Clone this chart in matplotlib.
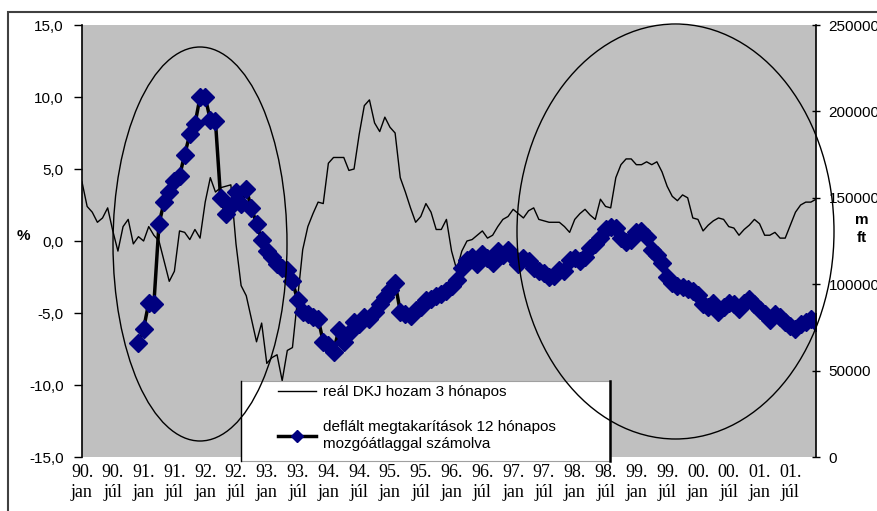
import numpy as np
import matplotlib
matplotlib.use("Agg")
import matplotlib.pyplot as plt
from matplotlib.patches import Ellipse, Rectangle
from matplotlib.lines import Line2D

# havi adatok 1990 jan - 2001 dec
honap_cimkek = ["90.\njan", "90.\njúl", "91.\njan", "91.\njúl", "92.\njan", "92.\njúl",
                "93.\njan", "93.\njúl", "94.\njan", "94.\njúl", "95.\njan", "95.\njúl",
                "96.\njan", "96.\njúl", "97.\njan", "97.\njúl", "98.\njan", "98.\njúl",
                "99.\njan", "99.\njúl", "00.\njan", "00.\njúl", "01.\njan", "01.\njúl"]

# reál DKJ hozam, % (bal tengely)
dkj_hozam = [4.1, 2.4, 2.0, 1.3, 1.6, 2.3, 0.7, -0.7, 1.0, 1.5, -0.2, 0.3,
             0.0, 1.0, 0.4, 0.0, -1.4, -2.8, -2.1, 0.7, 0.6, 0.1, 0.8, 0.2,
             2.7, 4.4, 3.4, 3.7, 3.8, 3.9, -0.2, -3.1, -3.8, -5.4, -7.0, -5.7,
             -8.5, -8.1, -7.9, -9.7, -7.6, -7.4, -4.0, -0.6, 1.0, 1.9, 2.7, 2.6,
             5.4, 5.8, 5.8, 5.8, 4.9, 5.0, 7.4, 9.4, 9.8, 8.2, 7.6, 8.6,
             7.9, 7.5, 4.4, 3.4, 2.3, 1.3, 1.7, 2.6, 2.0, 0.8, 0.8, 1.5,
             -0.7, -2.0, -0.7, 0.0, 0.1, 0.4, 0.7, 0.2, 0.4, 1.0, 1.5, 1.7,
             2.2, 1.9, 1.6, 2.1, 2.3, 1.5, 1.4, 1.3, 1.3, 1.3, 1.0, 0.6,
             1.5, 1.9, 2.2, 1.8, 1.5, 2.9, 2.4, 2.3, 4.4, 5.3, 5.7, 5.7,
             5.3, 5.3, 5.5, 5.3, 5.5, 4.8, 3.8, 3.1, 2.8, 3.2, 3.0, 1.6,
             1.5, 0.7, 1.1, 1.4, 1.6, 1.5, 1.0, 0.9, 0.4, 0.8, 1.1, 1.5,
             1.2, 0.4, 0.4, 0.6, 0.2, 0.2, 1.1, 2.0, 2.5, 2.7, 2.7, 2.9]

# deflált megtakarítások, 12 havi mozgóátlag, m ft (jobb tengely), 1990 dec-tõl
megtakaritas = [65800, 74200, 89200, 88300, 135000, 147500, 153300, 160000, 162500,
                175000, 186700, 192500, 208300, 208300, 195000, 194200, 150000, 140800,
                145000, 153300, 146700, 155000, 144200, 135000, 125800, 119200, 115800,
                111700, 109200, 108300, 101700, 90800, 84200, 82500, 80800, 80000,
                66700, 65000, 60800, 73300, 66700, 71700, 78300, 76700, 80800,
                80000, 84200, 88300, 92500, 96700, 100800, 84200, 82500, 81700,
                85000, 86700, 90800, 91700, 93300, 94200, 95800, 99200, 102500,
                109200, 114200, 115800, 111700, 117500, 115000, 112500, 119200, 116700,
                120000, 115800, 111700, 115000, 113300, 109200, 107500, 106700, 104200,
                105000, 108300, 107500, 114200, 115000, 113300, 115800, 120800, 123300,
                126700, 131700, 133300, 132500, 126700, 124200, 125800, 130000, 130500,
                127500, 120000, 116700, 112500, 104200, 100800, 99200, 98300, 97500,
                95800, 93800, 88300, 86700, 89200, 84200, 86700, 89200, 88300,
                85800, 89200, 91700, 88300, 85000, 82500, 79200, 82500, 80800,
                78300, 75800, 74200, 76700, 78300, 80000, 78300]

W, H = 877, 511
sans = "Liberation Sans"
serif = "Liberation Serif"

fig = plt.figure(figsize=(W / 100, H / 100), dpi=100)
ax = fig.add_axes([82 / W, 1 - 457 / H, 734 / W, 432 / H])
ax.set_facecolor("#c0c0c0")

honap = np.arange(len(dkj_hozam))
l1, = ax.plot(honap, dkj_hozam, color="black", lw=1.0)
ax.set_xlim(0, len(dkj_hozam) - 1)
ax.set_ylim(-15, 15)
yt = np.arange(-15, 16, 5)
ax.set_yticks(yt)
ax.set_yticklabels([f"{v:.1f}".replace(".", ",") for v in yt], fontfamily=sans, fontsize=11)
ax.set_xticks(honap[::6])
ax.set_xticklabels(honap_cimkek, fontfamily=serif, fontsize=13)
ax.tick_params(axis="x", length=0, pad=5)
ax.tick_params(axis="y", direction="out", length=6, width=1, pad=7)
for s in ["top", "bottom", "right"]:
    ax.spines[s].set_visible(False)
ax.spines["left"].set_linewidth(1.2)

ax2 = ax.twinx()
l2, = ax2.plot(honap[len(honap) - len(megtakaritas):], megtakaritas, color="black", lw=2.5,
               marker="D", ms=9, mfc="#000080", mec="#000080")
ax2.set_ylim(0, 250000)
ax2.set_yticks(np.arange(0, 250001, 50000))
ax2.set_yticklabels([str(v) for v in range(0, 250001, 50000)], fontfamily=sans, fontsize=11)
ax2.tick_params(axis="y", direction="inout", length=6, width=1, pad=6)
for s in ["top", "bottom", "left"]:
    ax2.spines[s].set_visible(False)
ax2.spines["right"].set_linewidth(1.2)

fig.text(23 / W, 1 - 236 / H, "%", fontfamily=sans, fontsize=11, fontweight="bold",
         ha="center", va="center")
fig.text(862 / W, 1 - 220 / H, "m", fontfamily=sans, fontsize=11, fontweight="bold",
         ha="center", va="center")
fig.text(862 / W, 1 - 238 / H, "ft", fontfamily=sans, fontsize=11, fontweight="bold",
         ha="center", va="center")

# legend doboz: fehér, bal oldalt vékony, jobb oldalt vastag fekete szél
fig.patches.append(Rectangle((241 / W, 1 - 461 / H), 369 / W, 80 / H, transform=fig.transFigure,
                             facecolor="white", edgecolor="#a0a0a0", lw=0.8, zorder=2))
fig.lines.append(Line2D([241 / W, 241 / W], [1 - 461 / H, 1 - 381 / H], transform=fig.transFigure,
                        color="black", lw=1.0, zorder=2.5))
fig.lines.append(Line2D([610 / W, 610 / W], [1 - 461 / H, 1 - 381 / H], transform=fig.transFigure,
                        color="black", lw=1.8, zorder=2.5))
h1 = Line2D([], [], color="black", lw=1.0)
h2 = Line2D([], [], color="black", lw=2.5, marker="D", ms=6, mfc="#000080", mec="#000080")
fig.legend([h1, h2], ["reál DKJ hozam 3 hónapos",
                      "deflált megtakarítások 12 hónapos\nmozgóátlaggal számolva"],
           loc="upper left", bbox_to_anchor=(278 / W, 1 - 385 / H), frameon=False,
           borderpad=0, borderaxespad=0, handlelength=2.5, handletextpad=0.45,
           labelspacing=1.4, prop={"family": sans, "size": 11})

# kiemelõ ellipszisek
for cx, cy, w, h in [(200, 244, 174, 394), (675.5, 231.5, 317, 415)]:
    fig.patches.append(Ellipse((cx / W, 1 - cy / H), w / W, h / H, transform=fig.transFigure,
                               facecolor="none", edgecolor="black", lw=1.0, zorder=6))

# külsõ keret
fig.patches.append(Rectangle((8 / W, -0.1), 1.0, 1.1 - 12 / H, transform=fig.transFigure,
                             facecolor="none", edgecolor="#404040", lw=1.5, zorder=1))

fig.savefig("out.png", dpi=100)
